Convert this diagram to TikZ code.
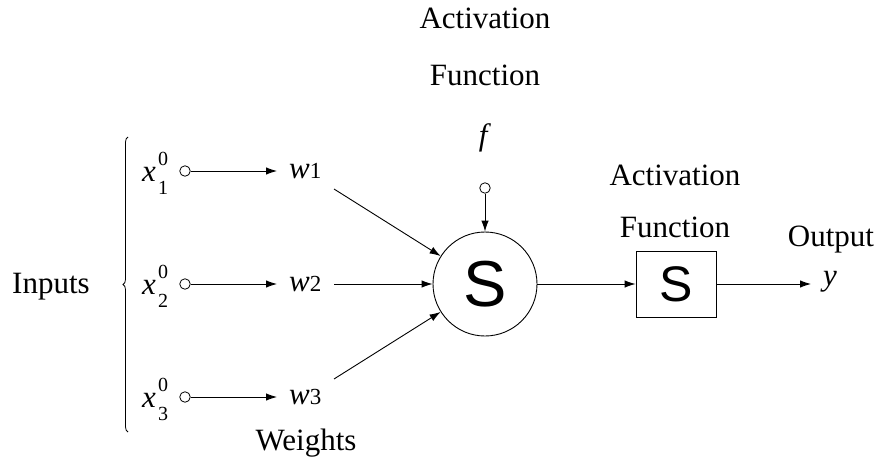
\documentclass[tikz,border=0pt]{standalone}
\usepackage{fontspec}
\setmainfont{Liberation Serif}
\newfontfamily\sfS{Liberation Sans}
\usetikzlibrary{arrows.meta,decorations.pathreplacing}
\tikzset{
  lbl/.style={font=\fontsize{31}{31}\selectfont, inner sep=0pt, anchor=base},
  idx/.style={font=\fontsize{20}{20}\selectfont, inner sep=0pt},
  port/.style={circle, draw, minimum size=10.5pt, inner sep=0pt, line width=0.8pt},
  wnode/.style={font=\fontsize{31}{31}\selectfont, inner xsep=12pt, inner ysep=0pt, text height=15pt, text depth=0pt, anchor=west},
  arr/.style={-{Latex[length=11pt,width=7.5pt]}, line width=0.9pt},
  ln/.style={line width=0.9pt}
}
\newcommand{\wlab}[1]{\textit{w}{\fontsize{23}{23}\selectfont #1}}
\begin{document}
\begin{tikzpicture}[x=1pt,y=-1pt]
\useasboundingbox (0,0) rectangle (880,460);
% top labels
\node[lbl] (act1) at (485,29) {Activation};
\node[lbl] (fun1) at (485,85) {Function};
\node[lbl] (f) at (485,145) {\textit{f}};
% summation circle
\node[circle, draw, line width=0.9pt, minimum size=104pt, inner sep=0pt, font=\sfS\fontsize{65}{65}\selectfont] (c) at (485,284) {S};
\node[port] (pf) at (485,188) {};
\draw[arr] (pf) -- (c);
% activation box
\node[draw, line width=0.9pt, minimum width=80pt, minimum height=66pt, inner sep=0pt, font=\sfS\fontsize{50}{50}\selectfont] (box) at (676,284) {S};
\node[lbl] (act2) at (675,185) {Activation};
\node[lbl] (fun2) at (675,237) {Function};
\node[lbl] (out) at (831,246) {Output};
\node[lbl, font=\fontsize{31}{31}\selectfont\itshape] (y) at (830,285) {y};
\coordinate (yend) at (811,284);
\draw[arr] (c) -- (box);
\draw[arr] (box) -- (yend);
% inputs
\node[lbl] (inputs) at (51,293) {Inputs};
\draw[line width=0.8pt, decorate, decoration={brace, amplitude=5pt, aspect=0.5}] (128,432) -- (128,137);
\foreach \i/\r in {1/171,2/284,3/397}{
  \node[lbl, font=\fontsize{31}{31}\selectfont\itshape] (x\i) at (149,\r+10) {x};
  \node[idx] (xs\i) at (163,\r-12) {0};
  \node[idx] (xb\i) at (163,\r+17) {\i};
  \node[port] (p\i) at (185,\r) {};
  \node[wnode] (w\i) at (277,\r) {\wlab{\i}};
  \draw[arr] (p\i) -- (w\i);
}
\coordinate (s1) at (334,189);
\coordinate (s2) at (334,284);
\coordinate (s3) at (334,379);
\draw[arr] (s1) -- (c);
\draw[arr] (s2) -- (c);
\draw[arr] (s3) -- (c);
\node[lbl] (weights) at (306,450) {Weights};
\end{tikzpicture}
\end{document}
